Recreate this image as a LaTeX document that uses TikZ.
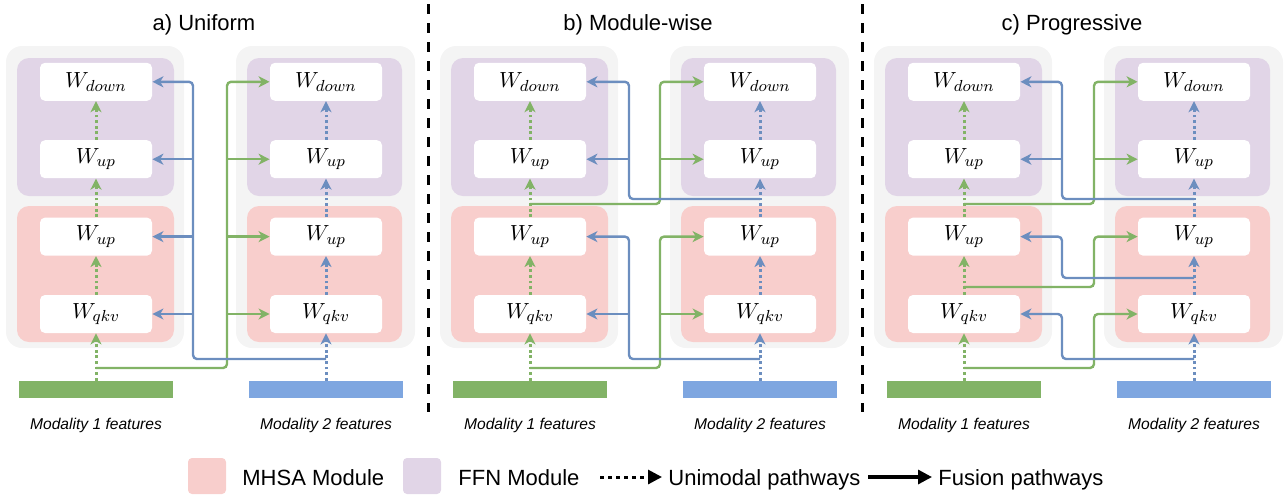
\documentclass[tikz,border=0pt]{standalone}
\usepackage{fontspec}
\setsansfont{Liberation Sans}
\usepackage{xcolor}
\usepackage{tikz}
\usetikzlibrary{positioning,arrows.meta}

\definecolor{bgGray}{HTML}{F4F4F4}
\definecolor{ffnC}{HTML}{E1D5E7}
\definecolor{mhsaC}{HTML}{F8CECC}
\definecolor{greenL}{HTML}{82B366}
\definecolor{blueL}{HTML}{6C8EBF}
\definecolor{blueBar}{HTML}{7EA6E0}

\begin{document}
\begin{tikzpicture}[
		x=0.5pt, y=-0.5pt,
		node distance=19.3pt,
		gbox/.style={fill=bgGray, rounded corners=8pt},
		ffn/.style={fill=ffnC, rounded corners=6pt},
		mhsa/.style={fill=mhsaC, rounded corners=6pt},
		wbox/.style={
			fill=white,
			rounded corners=2.5pt,
			minimum width=56pt,
			minimum height=19pt,
			inner sep=0pt,
			font=\fontsize{11}{13}\selectfont
		},
		bar/.style={minimum width=77pt, minimum height=8.5pt, inner sep=0pt},
		ttl/.style={anchor=base, font=\sffamily\fontsize{11}{13}\selectfont},
		feat/.style={anchor=base, font=\sffamily\itshape\fontsize{7.8}{9}\selectfont},
		uni/.style={line width=1.5pt, dash pattern=on 1.4pt off 1.4pt,
			-{Stealth[length=5.5pt,width=5.5pt,inset=1.6pt]}},
		fus/.style={line width=1.2pt, rounded corners=2pt,
			-{Stealth[length=5.5pt,width=5.5pt,inset=1.6pt]}},
		sep/.style={line width=1.5pt, dash pattern=on 5pt off 4.5pt},
		swatch/.style={rounded corners=2pt, minimum width=19pt, minimum height=18pt, inner sep=0pt},
		lgd/.style={anchor=base west, inner sep=3pt, font=\sffamily\fontsize{11}{13}\selectfont}
		]
		\useasboundingbox (0,0) rectangle (1286,495);
		
		% a) uniform
		\fill[gbox] (6,46) rectangle (184,348);
		\fill[gbox] (236,46) rectangle (415,348);
		\fill[ffn] (17,58) rectangle (174,196);
		\fill[mhsa] (17,206) rectangle (174,342);
		\fill[ffn] (247,58) rectangle (402,196);
		\fill[mhsa] (247,206) rectangle (402,342);
		\node[ttl] (at) at (204,30) {a) Uniform};
		
		\node[wbox] (aLq) at (96,314) {$W_{qkv}$};
		\node[wbox,above=of aLq] (aLu) {$W_{up}$};
		\node[wbox,above=of aLu] (aLf) {$W_{up}$};
		\node[wbox,above=of aLf] (aLd) {$W_{down}$};
		\node[wbox] (aRq) at (326,314) {$W_{qkv}$};
		\node[wbox,above=of aRq] (aRu) {$W_{up}$};
		\node[wbox,above=of aRu] (aRf) {$W_{up}$};
		\node[wbox,above=of aRf] (aRd) {$W_{down}$};
		
		\node[bar,fill=greenL] (aLm) at (96,389.5) {};
		\node[bar,fill=blueBar] (aRm) at (326,389.5) {};
		\node[feat] (aLt) at (96,429) {Modality 1 features};
		\node[feat] (aRt) at (326,429) {Modality 2 features};
		
		\draw[uni,greenL] (aLm) -- (aLq);
		\draw[uni,greenL] (aLq) -- (aLu);
		\draw[uni,greenL] (aLu) -- (aLf);
		\draw[uni,greenL] (aLf) -- (aLd);
		\draw[uni,blueL] (aRm) -- (aRq);
		\draw[uni,blueL] (aRq) -- (aRu);
		\draw[uni,blueL] (aRu) -- (aRf);
		\draw[uni,blueL] (aRf) -- (aRd);
		
		\coordinate (ag) at (96,368);
		\coordinate (agc) at (227,368);
		\draw[fus,greenL] (ag) -- (agc) |- (aRd);
		\draw[fus,greenL] (agc |- aRf) -- (aRf);
		\draw[fus,greenL] (agc |- aRu) -- (aRu);
		\draw[fus,greenL] (agc |- aRq) -- (aRq);
		\coordinate (ab) at (326,359);
		\coordinate (abc) at (193,359);
		\draw[fus,blueL] (ab) -- (abc) |- (aLd);
		\draw[fus,blueL] (abc |- aLf) -- (aLf);
		\draw[fus,blueL] (abc |- aLu) -- (aLu);
		\draw[fus,blueL] (abc |- aLq) -- (aLq);
		
		% b) module-wise
		\begin{scope}[xshift=217pt]
			\fill[gbox] (6,46) rectangle (184,348);
			\fill[gbox] (236,46) rectangle (415,348);
			\fill[ffn] (17,58) rectangle (174,196);
			\fill[mhsa] (17,206) rectangle (174,342);
			\fill[ffn] (247,58) rectangle (402,196);
			\fill[mhsa] (247,206) rectangle (402,342);
			\node[ttl] (bt) at (204,30) {b) Module-wise};
			
			\node[wbox] (bLq) at (96,314) {$W_{qkv}$};
			\node[wbox,above=of bLq] (bLu) {$W_{up}$};
			\node[wbox,above=of bLu] (bLf) {$W_{up}$};
			\node[wbox,above=of bLf] (bLd) {$W_{down}$};
			\node[wbox] (bRq) at (326,314) {$W_{qkv}$};
			\node[wbox,above=of bRq] (bRu) {$W_{up}$};
			\node[wbox,above=of bRu] (bRf) {$W_{up}$};
			\node[wbox,above=of bRf] (bRd) {$W_{down}$};
			
			\node[bar,fill=greenL] (bLm) at (96,389.5) {};
			\node[bar,fill=blueBar] (bRm) at (326,389.5) {};
			\node[feat] (bLt) at (96,429) {Modality 1 features};
			\node[feat] (bRt) at (326,429) {Modality 2 features};
			
			\draw[uni,greenL] (bLm) -- (bLq);
			\draw[uni,greenL] (bLq) -- (bLu);
			\draw[uni,greenL] (bLu) -- (bLf);
			\draw[uni,greenL] (bLf) -- (bLd);
			\draw[uni,blueL] (bRm) -- (bRq);
			\draw[uni,blueL] (bRq) -- (bRu);
			\draw[uni,blueL] (bRu) -- (bRf);
			\draw[uni,blueL] (bRf) -- (bRd);
			
			% ffn level
			\coordinate (bg1) at (96,204);
			\coordinate (bg1c) at (226,204);
			\draw[fus,greenL] (bg1) -- (bg1c) |- (bRd);
			\draw[fus,greenL] (bg1c |- bRf) -- (bRf);
			\coordinate (bb1) at (326,199);
			\coordinate (bb1c) at (195,199);
			\draw[fus,blueL] (bb1) -- (bb1c) |- (bLd);
			\draw[fus,blueL] (bb1c |- bLf) -- (bLf);
			% mhsa level
			\coordinate (bg2) at (96,368);
			\coordinate (bg2c) at (226,368);
			\draw[fus,greenL] (bg2) -- (bg2c) |- (bRu);
			\draw[fus,greenL] (bg2c |- bRq) -- (bRq);
			\coordinate (bb2) at (326,359);
			\coordinate (bb2c) at (195,359);
			\draw[fus,blueL] (bb2) -- (bb2c) |- (bLu);
			\draw[fus,blueL] (bb2c |- bLq) -- (bLq);
		\end{scope}
		
		% c) progressive
		\begin{scope}[xshift=434pt]
			\fill[gbox] (6,46) rectangle (184,348);
			\fill[gbox] (236,46) rectangle (415,348);
			\fill[ffn] (17,58) rectangle (174,196);
			\fill[mhsa] (17,206) rectangle (174,342);
			\fill[ffn] (247,58) rectangle (402,196);
			\fill[mhsa] (247,206) rectangle (402,342);
			\node[ttl] (ct) at (204,30) {c) Progressive};
			
			\node[wbox] (cLq) at (96,314) {$W_{qkv}$};
			\node[wbox,above=of cLq] (cLu) {$W_{up}$};
			\node[wbox,above=of cLu] (cLf) {$W_{up}$};
			\node[wbox,above=of cLf] (cLd) {$W_{down}$};
			\node[wbox] (cRq) at (326,314) {$W_{qkv}$};
			\node[wbox,above=of cRq] (cRu) {$W_{up}$};
			\node[wbox,above=of cRu] (cRf) {$W_{up}$};
			\node[wbox,above=of cRf] (cRd) {$W_{down}$};
			
			\node[bar,fill=greenL] (cLm) at (96,389.5) {};
			\node[bar,fill=blueBar] (cRm) at (326,389.5) {};
			\node[feat] (cLt) at (96,429) {Modality 1 features};
			\node[feat] (cRt) at (326,429) {Modality 2 features};
			
			\draw[uni,greenL] (cLm) -- (cLq);
			\draw[uni,greenL] (cLq) -- (cLu);
			\draw[uni,greenL] (cLu) -- (cLf);
			\draw[uni,greenL] (cLf) -- (cLd);
			\draw[uni,blueL] (cRm) -- (cRq);
			\draw[uni,blueL] (cRq) -- (cRu);
			\draw[uni,blueL] (cRu) -- (cRf);
			\draw[uni,blueL] (cRf) -- (cRd);
			
			% ffn
			\coordinate (cg1) at (96,204);
			\coordinate (cg1c) at (226,204);
			\draw[fus,greenL] (cg1) -- (cg1c) |- (cRd);
			\draw[fus,greenL] (cg1c |- cRf) -- (cRf);
			\coordinate (cb1) at (326,199);
			\coordinate (cb1c) at (194,199);
			\draw[fus,blueL] (cb1) -- (cb1c) |- (cLd);
			\draw[fus,blueL] (cb1c |- cLf) -- (cLf);
			% attention up
			\coordinate (cg2) at (96,287);
			\coordinate (cg2c) at (226,287);
			\draw[fus,greenL] (cg2) -- (cg2c) |- (cRu);
			\coordinate (cb2) at (326,278);
			\coordinate (cb2c) at (194,278);
			\draw[fus,blueL] (cb2) -- (cb2c) |- (cLu);
			% qkv
			\coordinate (cg3) at (96,368);
			\coordinate (cg3c) at (226,368);
			\draw[fus,greenL] (cg3) -- (cg3c) |- (cRq);
			\coordinate (cb3) at (326,359);
			\coordinate (cb3c) at (194,359);
			\draw[fus,blueL] (cb3) -- (cb3c) |- (cLq);
		\end{scope}
		
		% separators
		\draw[sep] (428,4) -- (428,412);
		\draw[sep] (862,4) -- (862,412);
		
		% legend
		\node[swatch,fill=mhsaC] (k1) at (207,476) {};
		\node[lgd] (k1t) at (236,485) {MHSA Module};
		\node[swatch,fill=ffnC] (k2) at (422,476) {};
		\node[lgd] (k2t) at (452,485) {FFN Module};
		\coordinate (k3) at (600,477);
		\node[lgd] (k3t) at (662,485) {Unimodal pathways};
		\draw[line width=1.5pt, dash pattern=on 2.2pt off 1.8pt,
		-{Triangle[length=7pt,width=7pt]}] (k3) -- (k3 -| k3t.west);
		\coordinate (k4) at (868,477);
		\node[lgd] (k4t) at (932,485) {Fusion pathways};
		\draw[line width=1.6pt, -{Triangle[length=7pt,width=7pt]}] (k4) -- (k4 -| k4t.west);
		
	\end{tikzpicture}
\end{document}
